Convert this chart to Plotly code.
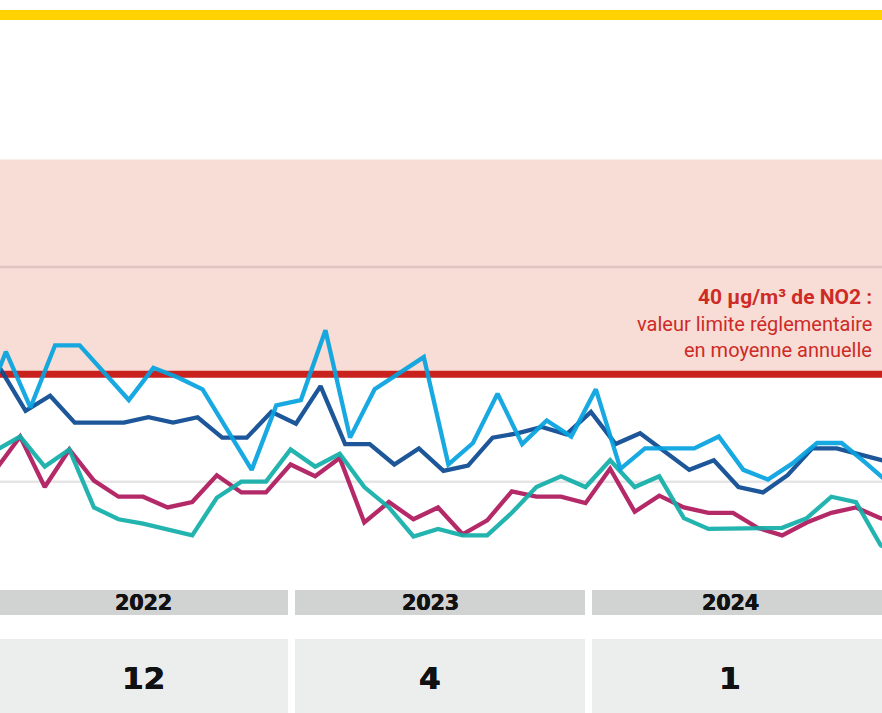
import plotly.graph_objects as go

# ---------------- data ----------------
months = list(range(-1, 37))  # month index, 0 = Jan 2022

light_blue = [36.2, 42.1, 36.9, 42.7, 42.7, 40.2, 37.6, 40.6, 39.7, 38.6, 34.8, 31.1, 37.1,
              37.6, 44.1, 34.1, 38.6, 40.1, 41.6, 31.6, 33.6, 38.2, 33.5, 35.7, 34.2,
              38.6, 31.2, 33.1, 33.1, 33.1, 34.2, 31.1, 30.2, 31.7, 33.6, 33.6, 31.7, 29.7]
dark_blue = [40.4, 40.4, 36.6, 38.0, 35.5, 35.5, 35.5, 36.0, 35.5, 36.0, 34.1, 34.1, 36.5,
             35.4, 38.9, 33.5, 33.5, 31.6, 33.1, 31.0, 31.5, 34.1, 34.5, 35.1, 34.4,
             36.5, 33.5, 34.5, 32.8, 31.1, 32.0, 29.5, 29.0, 30.6, 33.1, 33.1, 32.5, 31.9]
teal = [32.9, 34.2, 31.4, 33.0, 27.6, 26.5, 26.1, 25.6, 25.0, 28.5, 30.0, 30.0, 33.0,
        31.4, 32.6, 29.5, 27.6, 24.9, 25.6, 25.0, 25.0, 27.1, 29.5, 30.5, 29.5,
        32.0, 29.5, 30.5, 26.6, 25.6, 25.6, 25.6, 25.7, 26.6, 28.6, 28.1, 24.1, 22.7]
magenta = [31.1, 34.2, 29.5, 33.0, 30.1, 28.6, 28.6, 27.6, 28.1, 30.6, 29.0, 29.0, 31.6,
           30.5, 32.2, 26.2, 28.1, 26.5, 27.6, 25.1, 26.4, 29.1, 28.6, 28.6, 28.0,
           31.2, 27.2, 28.7, 27.6, 27.1, 27.1, 25.7, 25.0, 26.2, 27.1, 27.6, 26.6, 26.0]

years = ["2022", "2023", "2024"]
year_counts = ["12", "4", "1"]

limit_value = 40
band_top = 60
gridlines = [30, 50]

limit_title = "40 µg/m³ de NO2 :"
limit_lines = ["valeur limite réglementaire", "en moyenne annuelle"]

# ---------------- layout / style ----------------
W, H = 882, 713
C_LIGHT = "#07A3E0"
C_DARK = "#0C4A92"
C_TEAL = "#14AFA9"
C_MAG = "#AF1A5E"
C_RED = "#C9211E"
C_TXT_RED = "#CE2B27"
C_PINK = "#F7DDD5"
C_YELLOW = "#FFD200"
C_HEAD = "#D1D2D2"
C_BOX = "#ECEDED"

phase = {"dark": 0.0, "light": 0.2, "pink": 0.78}
block_left_px = [-2, 295, 592]
block_width_px = 290
label_center_px = [143, 430, 730]


def py(px):
    return 1 - px / H


def pxx(px):
    return px / W


fig = go.Figure()

series = [
    (magenta, C_MAG, phase["pink"]),
    (teal, C_TEAL, phase["pink"]),
    (dark_blue, C_DARK, phase["dark"]),
    (light_blue, C_LIGHT, phase["light"]),
]
for vals, col, ph in series:
    fig.add_trace(go.Scatter(
        x=[m + ph for m in months], y=vals, mode="lines",
        line=dict(color=col, width=4.3), opacity=0.93,
        hoverinfo="skip", showlegend=False,
    ))

shapes = []
shapes.append(dict(type="rect", xref="paper", yref="paper", x0=0, x1=1,
                   y0=py(20), y1=py(10), fillcolor=C_YELLOW, line_width=0, layer="below"))
shapes.append(dict(type="rect", xref="paper", yref="y", x0=0, x1=1,
                   y0=limit_value, y1=band_top, fillcolor=C_PINK, line_width=0, layer="below"))
for g in gridlines:
    shapes.append(dict(type="line", xref="paper", yref="y", x0=0, x1=1, y0=g, y1=g,
                       line=dict(color="rgba(0,0,0,0.10)", width=2.5), layer="below"))
shapes.append(dict(type="line", xref="paper", yref="y", x0=0, x1=1,
                   y0=limit_value, y1=limit_value,
                   line=dict(color=C_RED, width=7), layer="below"))

heavy = "0.5px 0 0 #111, -0.3px 0 0 #111"
annotations = []
for k, (yr, cnt) in enumerate(zip(years, year_counts)):
    x0 = pxx(block_left_px[k])
    x1 = pxx(block_left_px[k] + block_width_px)
    shapes.append(dict(type="rect", xref="paper", yref="paper", x0=x0, x1=x1,
                       y0=py(615), y1=py(590), fillcolor=C_HEAD, line_width=0, layer="below"))
    shapes.append(dict(type="rect", xref="paper", yref="paper", x0=x0, x1=x1,
                       y0=py(713), y1=py(639), fillcolor=C_BOX, line_width=0, layer="below"))
    xc = pxx(label_center_px[k])
    annotations.append(dict(x=xc, y=py(602.5), xref="paper", yref="paper", text=yr,
                            showarrow=False, xanchor="center", yanchor="middle",
                            font=dict(family="DejaVu Sans", size=20.5, color="#111111",
                                      weight="bold", shadow=heavy)))
    annotations.append(dict(x=xc, y=py(678), xref="paper", yref="paper", text=cnt,
                            showarrow=False, xanchor="center", yanchor="middle",
                            font=dict(family="DejaVu Sans", size=31, color="#111111",
                                      weight="bold", shadow=heavy)))

ax = pxx(874)
annotations.append(dict(x=ax, y=py(297), xref="paper", yref="paper", text=limit_title,
                        showarrow=False, xanchor="right", yanchor="middle",
                        font=dict(family="Roboto", size=21, color=C_TXT_RED, weight="bold")))
for j, t in enumerate(limit_lines):
    annotations.append(dict(x=ax, y=py(324 + 25.5 * j), xref="paper", yref="paper", text=t,
                            showarrow=False, xanchor="right", yanchor="middle",
                            font=dict(family="Roboto", size=20, color=C_TXT_RED)))

fig.update_layout(
    width=W, height=H, autosize=False,
    margin=dict(l=0, r=0, t=0, b=0, pad=0),
    paper_bgcolor="white", plot_bgcolor="rgba(0,0,0,0)",
    xaxis=dict(range=[-0.04, 35.84], visible=False, showgrid=False, zeroline=False, fixedrange=True),
    yaxis=dict(range=[8.46, 74.85], visible=False, showgrid=False, zeroline=False, fixedrange=True),
    shapes=shapes, annotations=annotations, showlegend=False,
)

fig.write_html("out.html", config={"displayModeBar": False},
               post_script="document.body.style.margin='0';")
